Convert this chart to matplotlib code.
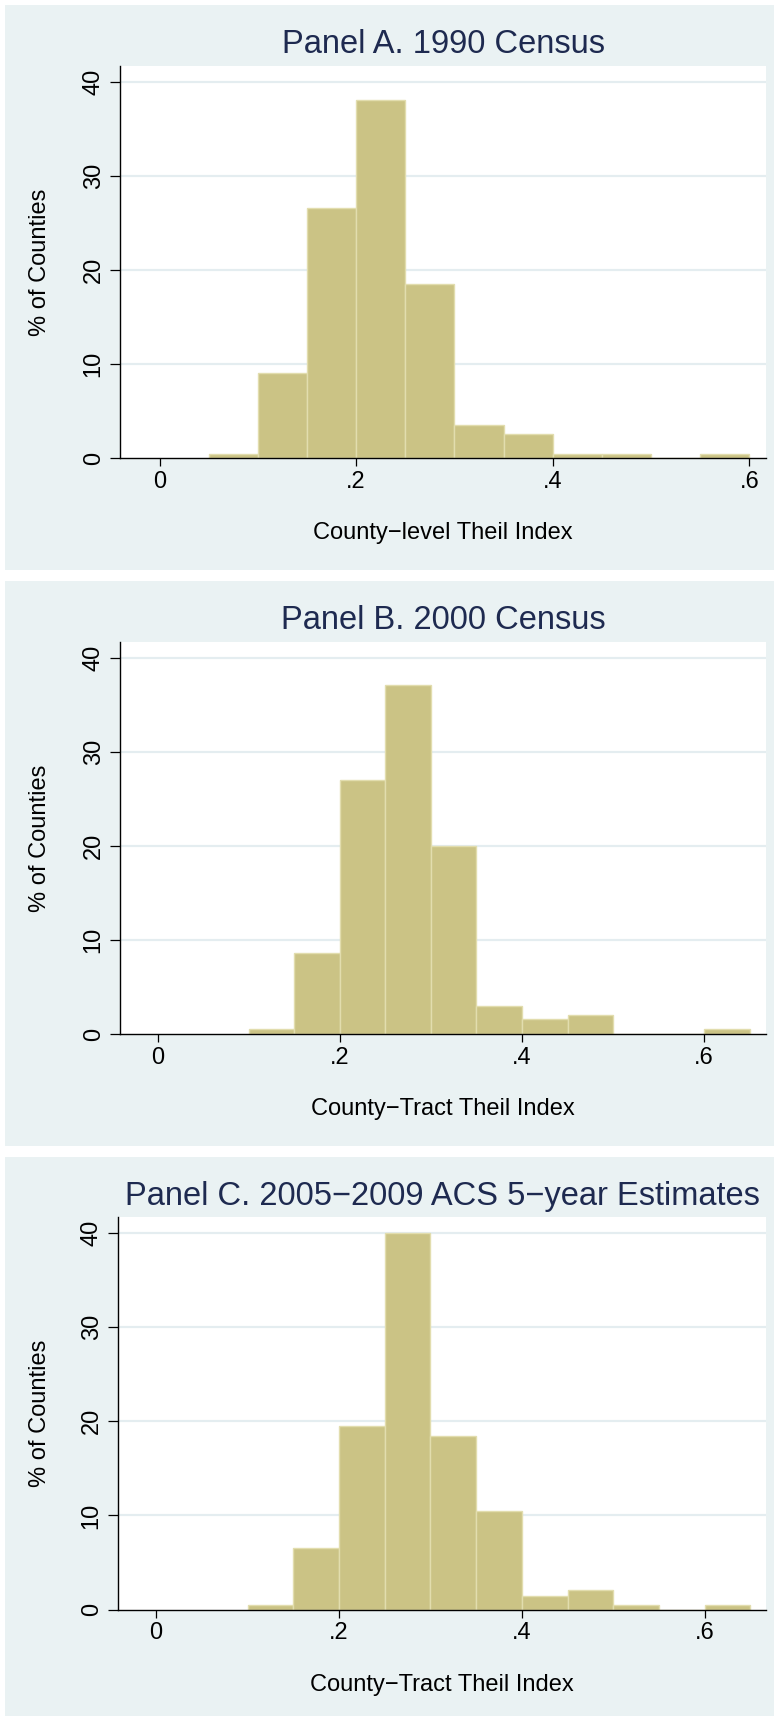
import matplotlib
matplotlib.use("Agg")
import matplotlib.pyplot as plt
from matplotlib.patches import Rectangle
import numpy as np

# ---- data (percent of counties per bin, bin width 0.05) ----
bin_width = 0.05
edges_A = [0.05, 0.10, 0.15, 0.20, 0.25, 0.30, 0.35, 0.40, 0.45, 0.50, 0.55]
pct_A = [0.5, 9.06, 26.55, 38.09, 18.55, 3.54, 2.55, 0.5, 0.5, 0.0, 0.5]

edges_B = [0.10, 0.15, 0.20, 0.25, 0.30, 0.35, 0.40, 0.45, 0.50, 0.55, 0.60]
pct_B = [0.53, 8.57, 27.0, 37.06, 20.0, 3.0, 1.56, 2.02, 0.0, 0.0, 0.53]

edges_C = [0.10, 0.15, 0.20, 0.25, 0.30, 0.35, 0.40, 0.45, 0.50, 0.55, 0.60]
pct_C = [0.5, 6.51, 19.52, 40.03, 18.46, 10.5, 1.49, 2.05, 0.5, 0.0, 0.5]

titles = ["Panel A. 1990 Census", "Panel B. 2000 Census",
          "Panel C. 2005\u22122009 ACS 5\u2212year Estimates"]
xlabels = ["County\u2212level Theil Index", "County\u2212Tract Theil Index",
           "County\u2212Tract Theil Index"]
ylabel = "% of Counties"
xticks = [0, 0.2, 0.4, 0.6]
xticklabels = ["0", ".2", ".4", ".6"]
yticks = [0, 10, 20, 30, 40]
yticklabels = ["0", "10", "20", "30", "40"]

# ---- style ----
W, H = 774, 1716
BG = "#EAF2F3"
BAR = "#CBC385"
BAR_EDGE = "#E2DDAE"
GRID = "#E4EDF0"
TITLE_C = "#1E2A50"
FONT = ["Liberation Sans", "DejaVu Sans"]
plt.rcParams["font.family"] = FONT

fig = plt.figure(figsize=(W / 100, H / 100), dpi=100)
fig.patch.set_facecolor("white")

panels = [
    dict(ptop=5, pbot=570, left=120, top=66, bottom=458.3, xlim=(-0.0403, 0.617),
         edges=edges_A, pct=pct_A),
    dict(ptop=581, pbot=1146, left=120, top=642, bottom=1034, xlim=(-0.0415, 0.668),
         edges=edges_B, pct=pct_B),
    dict(ptop=1157, pbot=1716, left=118, top=1217.3, bottom=1609.7, xlim=(-0.0417, 0.667),
         edges=edges_C, pct=pct_C),
]
RIGHT = 766

def fy(y):
    return 1 - y / H

for i, p in enumerate(panels):
    fig.add_artist(Rectangle((5 / W, fy(p["pbot"])), (W - 5) / W,
                             (p["pbot"] - p["ptop"]) / H,
                             transform=fig.transFigure, fc=BG, ec="none", zorder=0))
    ax = fig.add_axes([p["left"] / W, fy(p["bottom"]), (RIGHT - p["left"]) / W,
                       (p["bottom"] - p["top"]) / H])
    ax.set_facecolor("white")
    ax.bar(p["edges"], p["pct"], width=bin_width, align="edge", color=BAR,
           edgecolor=BAR_EDGE, linewidth=1.0, zorder=2)
    ax.set_xlim(*p["xlim"])
    ax.set_ylim(0, 41.65)
    ax.set_xticks(xticks)
    ax.set_xticklabels(xticklabels)
    ax.set_yticks(yticks)
    ax.set_yticklabels(yticklabels, rotation=90, va="center")
    for g in yticks[1:]:
        ax.axhline(g, color=GRID, lw=1.6, zorder=1)
    for s in ["top", "right"]:
        ax.spines[s].set_visible(False)
    for s in ["left", "bottom"]:
        ax.spines[s].set_linewidth(1.0)
        ax.spines[s].set_color("black")
        ax.spines[s].set_zorder(3)
    ax.tick_params(axis="x", length=6, width=0.9, pad=3, labelsize=17)
    ax.tick_params(axis="y", length=7, width=0.9, pad=4, labelsize=17)

    cx = (p["left"] + RIGHT) / 2
    fig.text(cx / W, fy(p["ptop"] + 48), titles[i], ha="center", va="baseline",
             fontsize=23.5, color=TITLE_C)
    fig.text(cx / W, fy(p["bottom"] + 81), xlabels[i], ha="center", va="baseline",
             fontsize=17, color="black")
    fig.text(40 / W, fy((p["top"] + p["bottom"]) / 2), ylabel, ha="center",
             va="center", rotation=90, fontsize=17, color="black")

fig.savefig("out.png", dpi=100, facecolor="white")
